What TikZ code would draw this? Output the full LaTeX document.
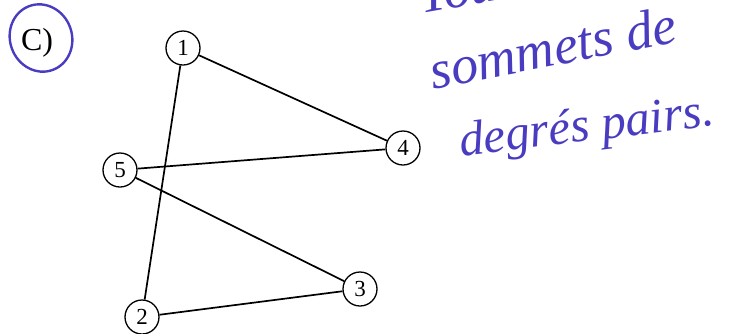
\documentclass[tikz,border=0pt]{standalone}
\usepackage{fontspec}
\setmainfont{Liberation Serif}
\definecolor{ink}{HTML}{4A3CC0}
\begin{document}
\begin{tikzpicture}[x=1pt,y=-1pt,
  vertex/.style={circle,draw,line width=1.3pt,minimum size=34pt,inner sep=0pt,font=\fontsize{23}{23}\selectfont},
  edge/.style={line width=1.7pt},
  hand/.style={text=ink,font=\fontsize{54}{54}\selectfont\itshape,anchor=base west}]
\useasboundingbox (0,0) rectangle (729,333);
\node[vertex] (n1) at (183,48) {1};
\node[vertex] (n4) at (403,148) {4};
\node[vertex] (n5) at (120,170) {5};
\node[vertex] (n3) at (360,289) {3};
\node[vertex] (n2) at (142,317) {2};
\draw[edge] (n1) -- (n4);
\draw[edge] (n1) -- (n2);
\draw[edge] (n5) -- (n4);
\draw[edge] (n5) -- (n3);
\draw[edge] (n2) -- (n3);
\node[font=\fontsize{32}{32}\selectfont] (c) at (37,43) {C)};
\draw[ink,line width=2.4pt,rotate around={20:(41,38)}] (41,38) ellipse [x radius=31pt,y radius=34pt];
\node[hand,rotate=10] (t0) at (418,14) {Tous les};
\node[hand,rotate=11] (t1) at (430,90) {sommets de};
\node[hand,rotate=7,font=\fontsize{49}{49}\selectfont\itshape] (t2) at (458,157) {degrés pairs.};
\end{tikzpicture}
\end{document}
